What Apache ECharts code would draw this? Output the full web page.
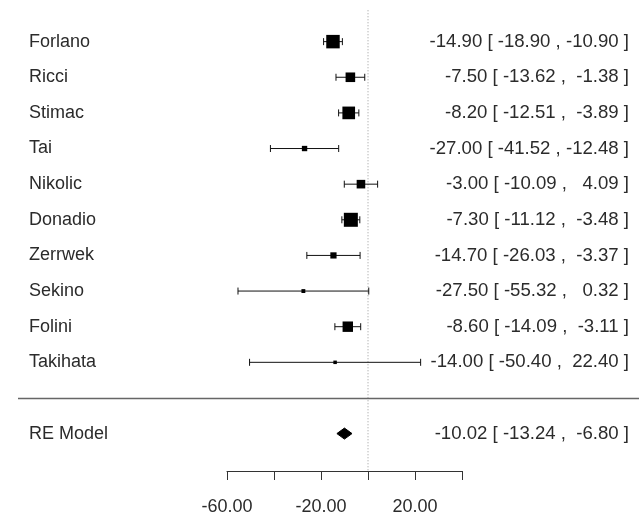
<!DOCTYPE html>
<html>
<head>
<meta charset="utf-8">
<script src="https://cdn.jsdelivr.net/npm/echarts@6/dist/echarts.min.js"></script>
<style>
html,body{margin:0;padding:0;background:#fff;}
#chart{width:639px;height:514px;}
</style>
</head>
<body>
<div id="chart"></div>
<script>
// ---- data ----
var studies = ['Forlano','Ricci','Stimac','Tai','Nikolic','Donadio','Zerrwek','Sekino','Folini','Takihata'];
var estimates = [-14.90,-7.50,-8.20,-27.00,-3.00,-7.30,-14.70,-27.50,-8.60,-14.00];
var lowerCI = [-18.90,-13.62,-12.51,-41.52,-10.09,-11.12,-26.03,-55.32,-14.09,-50.40];
var upperCI = [-10.90,-1.38,-3.89,-12.48,4.09,-3.48,-3.37,0.32,-3.11,22.40];
var summaryLabel = ['RE Model'];
var summaryEst = [-10.02];
var summaryLower = [-13.24];
var summaryUpper = [-6.80];
var xTickValues = [-60,-40,-20,0,20,40];
var xTickLabels = ['-60.00','','-20.00','','20.00',''];

// ---- helpers ----
function pad(v){ var s = v.toFixed(2); while (s.length < 6) s = ' ' + s; return s; }
function ciText(e,l,u){ return e.toFixed(2) + ' [ ' + pad(l) + ' , ' + pad(u) + ' ]'; }

var n = studies.length;
var invSE = upperCI.map(function(u,i){ return 3.92/(u-lowerCI[i]); });
var wMin = Math.min.apply(null, invSE), wMax = Math.max.apply(null, invSE);
var studyData = studies.map(function(s,i){
  return [estimates[i], n + 1 - i, lowerCI[i], upperCI[i], i];
});
var summaryData = [[summaryEst[0], 0, summaryLower[0], summaryUpper[0]]];

var FONT = 'Liberation Sans, Arial, sans-serif';
var TXT = '#2b2b2b';
var LEFT_TEXT_X = 29, RIGHT_TEXT_X = 629;
var LFONT = '18px ' + FONT, RFONT = '18.6px ' + FONT;

var chart = echarts.init(document.getElementById('chart'), null, {renderer:'canvas'});
chart.setOption({
  animation:false,
  backgroundColor:'#fff',
  grid:{left:227, right:177, top:6, bottom:43, containLabel:false, outerBoundsMode:'none'},
  xAxis:{
    type:'value', min:-60, max:40, interval:20,
    splitLine:{show:false},
    axisLine:{show:true, onZero:false, lineStyle:{color:'#333', width:1}},
    axisTick:{show:true, length:9, lineStyle:{color:'#333', width:1}},
    axisLabel:{
      margin:27, fontSize:18, fontFamily:FONT, color:TXT,
      formatter:function(v){ var i = xTickValues.indexOf(v); return i>=0 ? xTickLabels[i] : ''; }
    }
  },
  yAxis:{type:'value', min:-1.05, max:12, show:false, splitLine:{show:false}},
  series:[
    {
      type:'custom', silent:true, z:1,
      data:[[0, -1.05, 11.88]],
      renderItem:function(params, api){
        var top = api.coord([0, api.value(2)]);
        var bot = api.coord([0, api.value(1)]);
        var sep = api.coord([0, 1]);
        return {type:'group', children:[
          {type:'line', shape:{x1:top[0], y1:top[1], x2:bot[0], y2:bot[1]},
           style:{stroke:'#999', lineWidth:1, lineDash:[1,2]}},
          {type:'line', shape:{x1:18, y1:Math.round(sep[1])+0.5, x2:639, y2:Math.round(sep[1])+0.5},
           style:{stroke:'#666', lineWidth:1.3}}
        ]};
      }
    },
    {
      type:'custom', silent:true, z:3,
      data:studyData,
      renderItem:function(params, api){
        var i = api.value(4);
        var c = api.coord([api.value(0), api.value(1)]);
        var lo = api.coord([api.value(2), api.value(1)]);
        var hi = api.coord([api.value(3), api.value(1)]);
        var y = c[1];
        var sz = 3.5 + (invSE[i]-wMin)/(wMax-wMin)*10.5;
        var wh = 3.5;
        return {type:'group', children:[
          {type:'line', shape:{x1:lo[0], y1:y, x2:hi[0], y2:y}, style:{stroke:'#111', lineWidth:1}},
          {type:'line', shape:{x1:lo[0], y1:y-wh, x2:lo[0], y2:y+wh}, style:{stroke:'#111', lineWidth:1}},
          {type:'line', shape:{x1:hi[0], y1:y-wh, x2:hi[0], y2:y+wh}, style:{stroke:'#111', lineWidth:1}},
          {type:'rect', shape:{x:c[0]-sz/2, y:y-sz/2, width:sz, height:sz}, style:{fill:'#000'}},
          {type:'text', x:LEFT_TEXT_X, y:y, style:{text:studies[i], fill:TXT, font:LFONT, align:'left', verticalAlign:'middle'}},
          {type:'text', x:RIGHT_TEXT_X, y:y, style:{text:ciText(estimates[i], lowerCI[i], upperCI[i]), fill:TXT, font:RFONT, align:'right', verticalAlign:'middle'}}
        ]};
      }
    },
    {
      type:'custom', silent:true, z:3,
      data:summaryData,
      renderItem:function(params, api){
        var c = api.coord([api.value(0), api.value(1)]);
        var lo = api.coord([api.value(2), api.value(1)]);
        var hi = api.coord([api.value(3), api.value(1)]);
        var y = c[1], h = 5.5;
        return {type:'group', children:[
          {type:'polygon', shape:{points:[[lo[0],y],[c[0],y-h],[hi[0],y],[c[0],y+h]]}, style:{fill:'#000', stroke:'#000', lineWidth:1}},
          {type:'text', x:LEFT_TEXT_X, y:y, style:{text:summaryLabel[0], fill:TXT, font:LFONT, align:'left', verticalAlign:'middle'}},
          {type:'text', x:RIGHT_TEXT_X, y:y, style:{text:ciText(summaryEst[0], summaryLower[0], summaryUpper[0]), fill:TXT, font:RFONT, align:'right', verticalAlign:'middle'}}
        ]};
      }
    }
  ]
});
</script>
</body>
</html>
